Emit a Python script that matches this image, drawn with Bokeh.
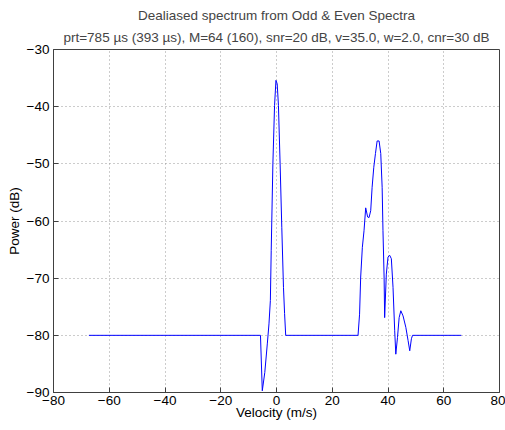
from bokeh.plotting import figure
from bokeh.models import Title, Range1d, FixedTicker
from bokeh.embed import file_html
from bokeh.resources import INLINE

velocity = [-67.3, -5.75, -5.1, -4.2, -3.3, -2.7, -2.2, -1.9, -1.3, -0.7, -0.2, 0.25,
            0.7, 1.3, 1.9, 2.5, 2.9, 3.3, 29.25, 29.8, 30.2, 30.8, 31.4, 32.0, 32.7,
            33.2, 33.8, 34.3, 34.9, 35.5, 36.1, 36.8, 37.4, 37.9, 38.2, 38.6, 38.8,
            39.4, 40.0, 40.6, 41.2, 41.8, 42.4, 42.8, 43.4, 44.0, 44.6, 45.4, 46.4,
            47.2, 47.8, 48.4, 48.8, 66.3]
power_db = [-80, -80, -89.7, -86.5, -81.5, -78, -73.9, -65.2, -50, -39.8, -35.4, -36,
            -39.8, -50, -61.1, -71.6, -76.2, -80, -80, -76.3, -69.8, -64.6, -61.7, -57.7,
            -59.3, -59.4, -58.2, -54.1, -50.6, -48.2, -46.0, -46.0, -48.2, -54.1, -61.7,
            -69.8, -76.9, -69.3, -66.3, -66.0, -66.6, -71.6, -79.2, -83.3, -80.4, -76.9,
            -75.7, -76.6, -78.6, -80.9, -82.7, -80.6, -80, -80]

x_ticks = [-80, -60, -40, -20, 0, 20, 40, 60, 80]
y_ticks = [-90, -80, -70, -60, -50, -40, -30]
title_line1 = "Dealiased spectrum from Odd & Even Spectra"
title_line2 = "prt=785 \u00b5s (393 \u00b5s), M=64 (160), snr=20 dB, v=35.0, w=2.0, cnr=30 dB"
x_label = "Velocity (m/s)"
y_label = "Power (dB)"

FONT = "Liberation Sans"
FS = "13.5px"

p = figure(width=505, height=430, output_backend="svg", toolbar_location=None,
           x_range=Range1d(-80, 80), y_range=Range1d(-90, -30),
           min_border_left=53, min_border_right=6, min_border_top=49,
           min_border_bottom=38, title=None)

p.add_layout(Title(text=title_line2, align="center", text_font=FONT,
                   text_font_size=FS, text_font_style="normal", offset=0,
                   text_line_height=1.0, standoff=10), "above")
p.add_layout(Title(text=title_line1, align="center", text_font=FONT,
                   text_font_size=FS, text_font_style="normal", offset=0,
                   text_line_height=0.8, standoff=0), "above")

p.line(velocity, power_db, line_color="#0000ff", line_width=1)

for ax in (p.xaxis[0], p.yaxis[0]):
    ax.axis_line_color = "#404040"
    ax.major_tick_line_color = "#404040"
    ax.major_tick_in = 5
    ax.major_tick_out = 0
    ax.minor_tick_line_color = None
    ax.major_label_text_font = FONT
    ax.major_label_text_font_size = FS
    ax.major_label_text_color = "black"
    ax.axis_label_text_font = FONT
    ax.axis_label_text_font_size = FS
    ax.axis_label_text_font_style = "normal"
    ax.axis_label_text_color = "black"

p.xaxis.ticker = FixedTicker(ticks=x_ticks)
p.yaxis.ticker = FixedTicker(ticks=y_ticks)
p.xaxis.axis_label = x_label
p.yaxis.axis_label = y_label
p.xaxis.major_label_standoff = 3
p.xaxis.axis_label_standoff = -3
p.yaxis.major_label_standoff = 4
p.yaxis.axis_label_standoff = 2

p.xgrid.grid_line_color = "#999999"
p.ygrid.grid_line_color = "#999999"
p.xgrid.grid_line_dash = "1 3"
p.ygrid.grid_line_dash = "1 3"

p.outline_line_color = "#404040"
p.outline_line_alpha = 1
p.background_fill_color = "white"
p.border_fill_color = "white"

open("out.html", "w").write(file_html(p, INLINE))
